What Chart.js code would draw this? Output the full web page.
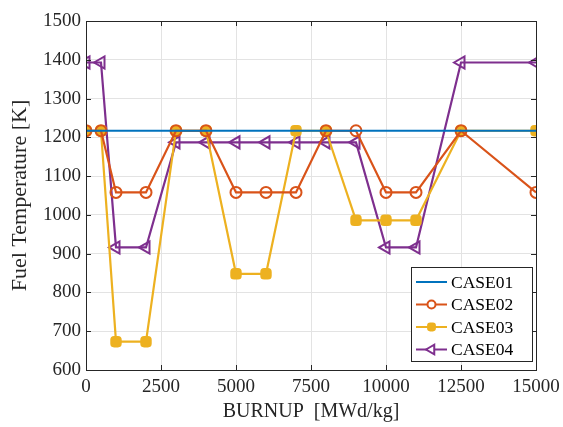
<!DOCTYPE html>
<html>
<head>
<meta charset="utf-8">
<script src="https://cdn.jsdelivr.net/npm/chart.js@4.4.1/dist/chart.umd.min.js"></script>
<style>
  html, body { margin: 0; padding: 0; background: #fff; }
  #wrap { width: 563px; height: 427px; }
</style>
</head>
<body>
<div id="wrap"><canvas id="c" width="563" height="427"></canvas></div>
<script>
const burnup = [0, 500, 1000, 2000, 3000, 4000, 5000, 6000, 7000, 8000, 9000, 10000, 11000, 12500, 15000]
const case01 = [1217, 1217, 1217, 1217, 1217, 1217, 1217, 1217, 1217, 1217, 1217, 1217, 1217, 1217, 1217]
const case02 = [1217, 1217, 1058, 1058, 1217, 1217, 1058, 1058, 1058, 1217, 1217, 1058, 1058, 1217, 1058]
const case03 = [1217, 1217, 673, 673, 1217, 1217, 848, 848, 1217, 1217, 986, 986, 986, 1217, 1217]
const case04 = [1393, 1393, 916, 916, 1187, 1187, 1187, 1187, 1187, 1187, 1187, 916, 916, 1393, 1393]
const xTicks = [0, 2500, 5000, 7500, 10000, 12500, 15000]
const yTicks = [600, 700, 800, 900, 1000, 1100, 1200, 1300, 1400, 1500]

const FONT = "'Liberation Serif', 'DejaVu Serif', serif"
const pts = arr => arr.map((y, i) => ({ x: burnup[i], y }))

const series = [
  { label: 'CASE01', data: case01, color: '#0072BD', style: false, radius: 0, fill: false },
  { label: 'CASE02', data: case02, color: '#D95319', style: 'circle', radius: 5.5, fill: false },
  { label: 'CASE03', data: case03, color: '#EDB120', style: 'rectRounded', radius: 5.5, fill: true },
  { label: 'CASE04', data: case04, color: '#7E2F8E', style: 'triangle', radius: 7, fill: false, rot: -90 }
]

// MATLAB-style box + inner ticks
const boxPlugin = {
  id: 'box',
  afterDraw(chart) {
    const { ctx, chartArea: a, scales } = chart
    ctx.save()
    ctx.strokeStyle = '#262626'
    ctx.lineWidth = 1
    ctx.strokeRect(a.left + 0.5, a.top + 0.5, a.right - a.left, a.bottom - a.top)
    ctx.beginPath()
    xTicks.forEach(v => {
      const x = Math.round(scales.x.getPixelForValue(v)) + 0.5
      ctx.moveTo(x, a.bottom); ctx.lineTo(x, a.bottom - 5)
      ctx.moveTo(x, a.top); ctx.lineTo(x, a.top + 5)
    })
    yTicks.forEach(v => {
      const y = Math.round(scales.y.getPixelForValue(v)) + 0.5
      ctx.moveTo(a.left, y); ctx.lineTo(a.left + 5, y)
      ctx.moveTo(a.right, y); ctx.lineTo(a.right - 5, y)
    })
    ctx.stroke()
    ctx.restore()
  }
}

// legend with line + marker, like MATLAB
const legendPlugin = {
  id: 'mlegend',
  afterDraw(chart) {
    const { ctx } = chart
    const bx = 411, by = 267, bw = 121, bh = 94
    ctx.save()
    ctx.fillStyle = '#fff'
    ctx.fillRect(bx, by, bw, bh)
    ctx.strokeStyle = '#262626'
    ctx.lineWidth = 1
    ctx.strokeRect(bx + 0.5, by + 0.5, bw, bh)
    ctx.font = '17.5px ' + FONT
    ctx.textBaseline = 'middle'
    series.forEach((s, i) => {
      const y = by + 15 + i * 22.5
      ctx.strokeStyle = s.color
      ctx.lineWidth = 2
      ctx.beginPath(); ctx.moveTo(bx + 5, y); ctx.lineTo(bx + 36, y); ctx.stroke()
      if (s.style) {
        ctx.fillStyle = s.fill ? s.color : '#fff'
        Chart.helpers.drawPoint(ctx, { pointStyle: s.style, radius: s.radius - 1.5, rotation: s.rot || 0, borderWidth: 2 }, bx + 20.5, y)
        if (s.fill) ctx.fill()
      }
      ctx.fillStyle = '#000'
      ctx.fillText(s.label, bx + 40, y + 1)
    })
    ctx.restore()
  }
}

new Chart(document.getElementById('c'), {
  type: 'line',
  data: {
    datasets: series.map(s => ({
      label: s.label,
      data: pts(s.data),
      borderColor: s.color,
      backgroundColor: s.fill ? s.color : 'rgba(255,255,255,0)',
      borderWidth: 2.2,
      pointStyle: s.style,
      pointRadius: s.radius,
      pointRotation: s.rot || 0,
      pointBorderWidth: 2,
      pointBackgroundColor: s.fill ? s.color : 'rgba(255,255,255,0)',
      pointBorderColor: s.color,
      tension: 0
    }))
  },
  options: {
    responsive: false,
    animation: false,
    layout: { padding: { left: 0, right: 27, top: 21, bottom: 0 } },
    plugins: { legend: { display: false }, tooltip: { enabled: false } },
    scales: {
      x: {
        type: 'linear', min: 0, max: 15000,
        afterBuildTicks: s => { s.ticks = xTicks.map(v => ({ value: v })) },
        grid: { color: '#e3e3e3', drawTicks: false },
        border: { display: false },
        ticks: { color: '#262626', font: { family: FONT, size: 19 }, padding: 6, maxRotation: 0, callback: v => String(v) },
        title: { display: true, text: 'BURNUP  [MWd/kg]', color: '#262626', font: { family: FONT, size: 20 }, padding: { top: 0, bottom: 3 } },
        afterFit: s => { s.height = 57; s.paddingLeft = 0; s.paddingRight = 0 }
      },
      y: {
        type: 'linear', min: 600, max: 1500,
        afterBuildTicks: s => { s.ticks = yTicks.map(v => ({ value: v })) },
        grid: { color: '#e3e3e3', drawTicks: false },
        border: { display: false },
        ticks: { color: '#262626', font: { family: FONT, size: 19 }, padding: 5, callback: v => String(v) },
        title: { display: true, text: 'Fuel Temperature [K]', color: '#262626', font: { family: FONT, size: 22 }, padding: { top: 7, bottom: 0 } },
        afterFit: s => { s.width = 86; s.paddingTop = 0; s.paddingBottom = 0 }
      }
    }
  },
  plugins: [boxPlugin, legendPlugin]
})
</script>
</body>
</html>
